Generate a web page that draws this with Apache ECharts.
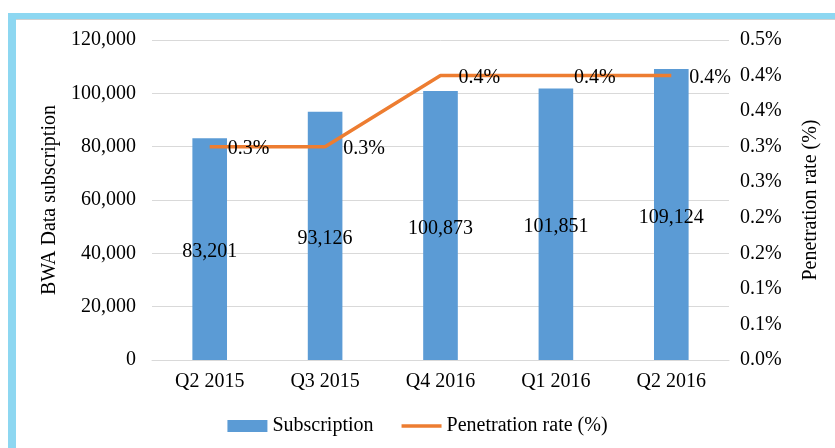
<!DOCTYPE html>
<html>
<head>
<meta charset="utf-8">
<script src="https://cdn.jsdelivr.net/npm/echarts@6/dist/echarts.min.js"></script>
<style>
  html, body { margin: 0; padding: 0; background: #fff; }
  #chart { width: 835px; height: 448px; }
</style>
</head>
<body>
<div id="chart"></div>
<script>
// data
var quarters = ["Q2 2015", "Q3 2015", "Q4 2016", "Q1 2016", "Q2 2016"];
var subscription = [83201, 93126, 100873, 101851, 109124];
var penetration = [0.30, 0.30, 0.40, 0.40, 0.40]; // percent

var font = "Liberation Serif";

// excel style rounding (half up) for the % labels
function pct(v) {
  return (Math.round(v * 10 + 1e-6) / 10).toFixed(1) + "%";
}

var chart = echarts.init(document.getElementById("chart"));
chart.setOption({
  animation: false,
  backgroundColor: "#fff",
  textStyle: { fontFamily: font, color: "#000" },
  graphic: [
    { type: "rect", shape: { x: 8, y: 13, width: 827, height: 6 }, style: { fill: "#8dd7f1" } },
    { type: "rect", shape: { x: 8, y: 19, width: 827, height: 1 }, style: { fill: "#d0d0d0" } },
    { type: "rect", shape: { x: 8, y: 13, width: 8, height: 435 }, style: { fill: "#8dd7f1" } }
  ],
  grid: { left: 152, right: 106, top: 40, bottom: 88 },
  legend: {
    bottom: 7,
    left: "center",
    itemGap: 28,
    itemWidth: 40,
    itemHeight: 12,
    textStyle: { fontFamily: font, fontSize: 20, color: "#000" },
    data: [
      { name: "Subscription", icon: "rect" },
      { name: "Penetration rate (%)", icon: "path://M0,0L40,0L40,3.5L0,3.5Z" }
    ]
  },
  xAxis: {
    type: "category",
    data: quarters,
    axisTick: { show: false },
    axisLine: { lineStyle: { color: "#d9d9d9", width: 1 } },
    axisLabel: { fontFamily: font, fontSize: 20, color: "#000", margin: 12 }
  },
  yAxis: [
    {
      type: "value",
      min: 0,
      max: 120000,
      interval: 20000,
      name: "BWA Data subscription",
      nameLocation: "middle",
      nameGap: 84,
      nameTextStyle: { fontFamily: font, fontSize: 20, color: "#000" },
      axisLabel: {
        fontFamily: font, fontSize: 20, color: "#000", margin: 16,
        formatter: function (v) { return v.toLocaleString("en-US"); }
      },
      splitLine: { lineStyle: { color: "#d9d9d9" } }
    },
    {
      type: "value",
      min: 0,
      max: 0.45,
      interval: 0.05,
      alignTicks: false,
      name: "Penetration rate (%)",
      nameLocation: "middle",
      nameGap: 72,
      nameTextStyle: { fontFamily: font, fontSize: 20, color: "#000" },
      axisLabel: { fontFamily: font, fontSize: 20, color: "#000", margin: 11, formatter: pct },
      splitLine: { show: false }
    }
  ],
  series: [
    {
      name: "Subscription",
      type: "bar",
      data: subscription,
      barWidth: "30%",
      itemStyle: { color: "#5b9bd5" },
      label: {
        show: true,
        position: "inside",
        offset: [0, 3],
        fontFamily: font,
        fontSize: 20,
        color: "#000",
        formatter: function (p) { return p.value.toLocaleString("en-US"); }
      }
    },
    {
      name: "Penetration rate (%)",
      type: "line",
      yAxisIndex: 1,
      data: penetration,
      symbol: "circle",
      symbolSize: 0.1,
      showSymbol: true,
      lineStyle: { color: "#ed7d31", width: 3.5 },
      itemStyle: { color: "#ed7d31" },
      label: {
        show: true,
        position: "right",
        distance: 18,
        offset: [0, 2],
        fontFamily: font,
        fontSize: 20,
        color: "#000",
        formatter: function (p) { return pct(p.value); }
      }
    }
  ]
});
</script>
</body>
</html>
